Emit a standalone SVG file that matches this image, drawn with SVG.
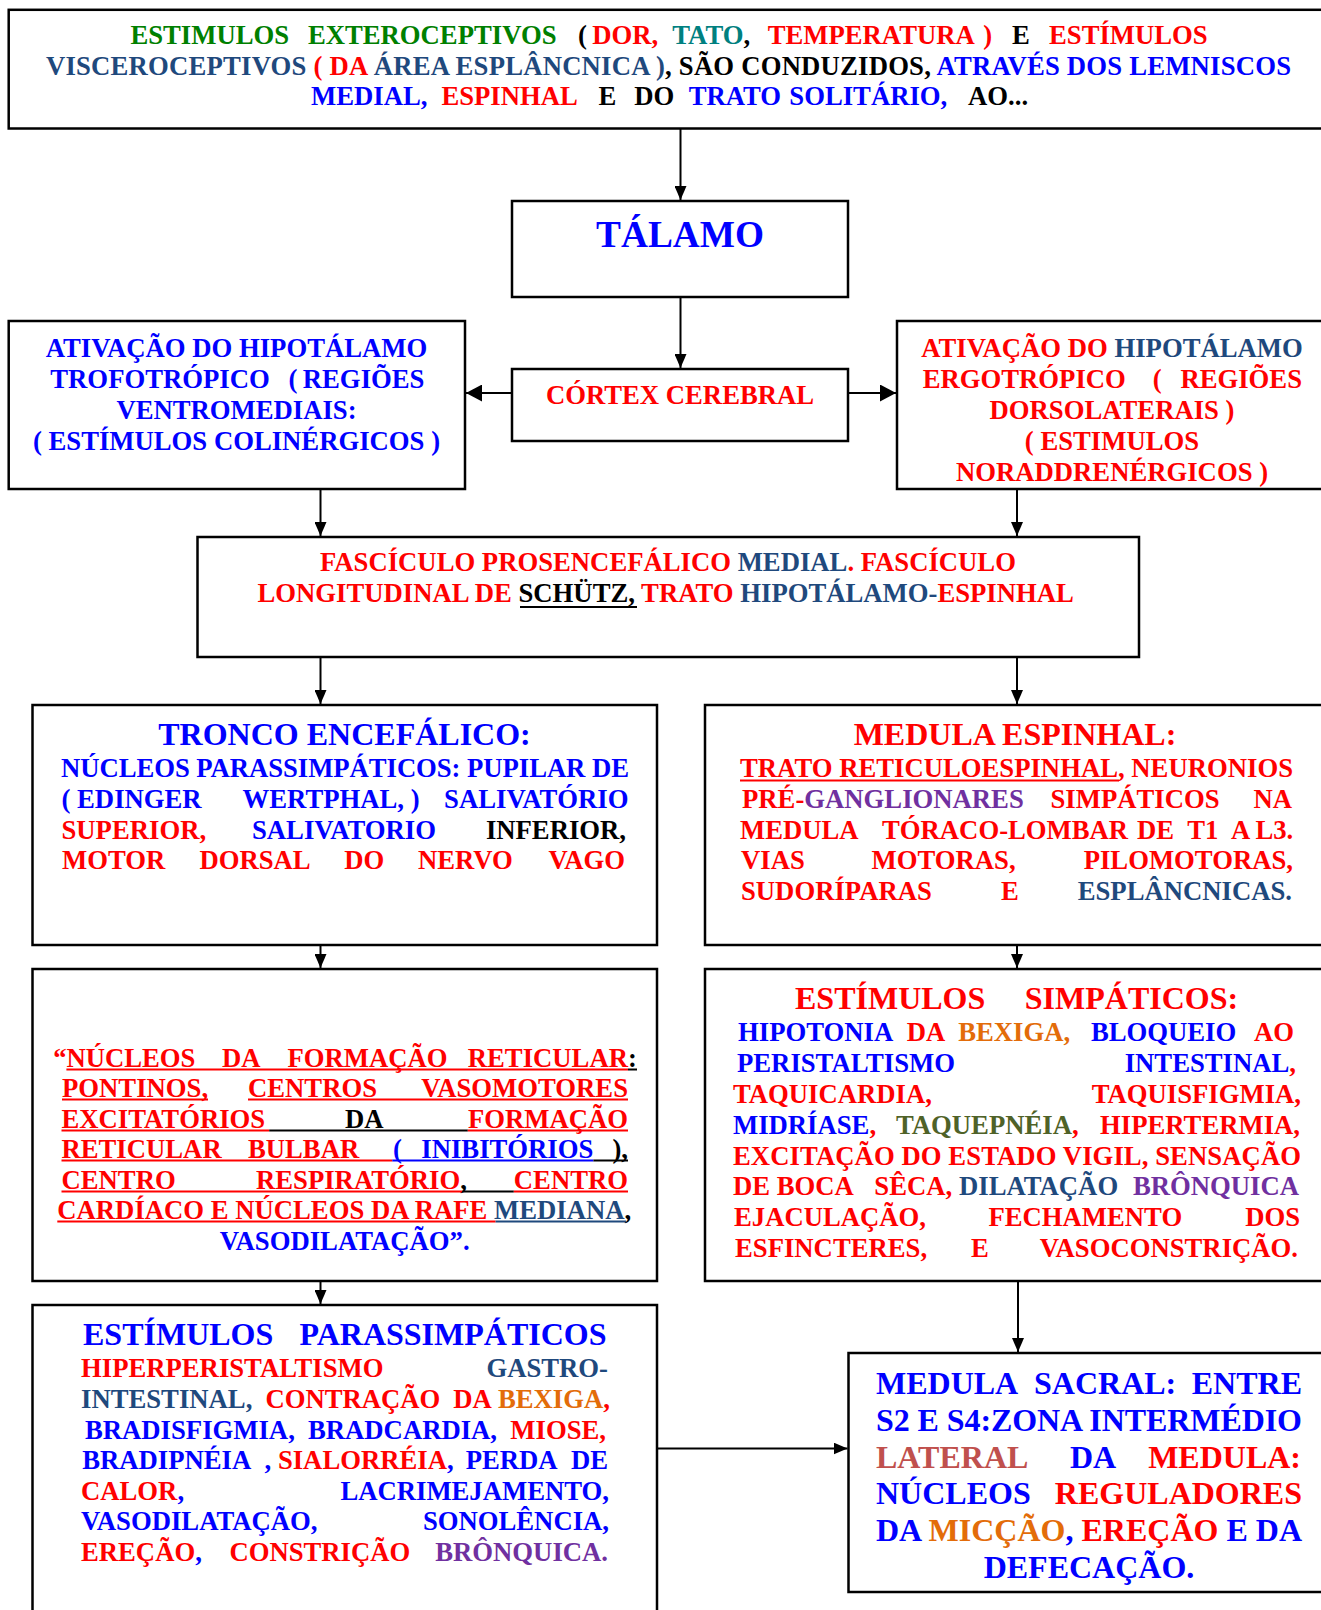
<svg xmlns="http://www.w3.org/2000/svg" width="1321" height="1610" viewBox="0 0 1321 1610">
<defs>
  <style>
    text { font-family: "Liberation Serif", "Times New Roman", serif; font-weight: bold; font-size: 26.7px; }
    .h { font-size: 32px; }
    .big { font-size: 37.3px; }
    .box { fill: #fff; stroke: #000; stroke-width: 2.5; }
    .con { stroke: #000; stroke-width: 2; fill: none; marker-end: url(#ah); }
    .conb { stroke: #000; stroke-width: 2.2; fill: none; marker-end: url(#ahB); }
    .ul { stroke-width: 2; }
    .r { fill: #FF0000; } .bl { fill: #0000FF; } .k { fill: #000; }
    .g { fill: #008000; } .t { fill: #008080; } .nv { fill: #1F497D; }
    .pu { fill: #7030A0; } .or { fill: #E36C09; } .ol { fill: #4F6228; } .rb { fill: #C0504D; }
    .sr { stroke: #FF0000; } .sb { stroke: #0000FF; } .sk { stroke: #000; } .snv { stroke: #1F497D; }
  </style>
  <marker id="ah" viewBox="0 0 14 12" refX="14" refY="6" markerWidth="14" markerHeight="12" markerUnits="userSpaceOnUse" orient="auto">
    <path d="M0,0 L14,6 L0,12 z" fill="#000"/>
  </marker>
  <marker id="ahB" viewBox="0 0 16 17" refX="16" refY="8.5" markerWidth="16" markerHeight="17" markerUnits="userSpaceOnUse" orient="auto">
    <path d="M0,0 L16,8.5 L0,17 z" fill="#000"/>
  </marker>
</defs>
<rect width="1321" height="1610" fill="#fff"/>

<!-- connectors -->
<g id="connectors">
  <line class="con" x1="680.5" y1="129" x2="680.5" y2="200"/>
  <line class="con" x1="680.5" y1="298" x2="680.5" y2="368"/>
  <line class="conb" x1="512" y1="393" x2="466" y2="393"/>
  <line class="conb" x1="848" y1="393" x2="896" y2="393"/>
  <line class="con" x1="320.5" y1="490" x2="320.5" y2="536"/>
  <line class="con" x1="1017" y1="490" x2="1017" y2="536"/>
  <line class="con" x1="320.5" y1="658" x2="320.5" y2="704"/>
  <line class="con" x1="1017" y1="658" x2="1017" y2="704"/>
  <line class="con" x1="320.5" y1="946" x2="320.5" y2="968"/>
  <line class="con" x1="1017" y1="946" x2="1017" y2="968"/>
  <line class="con" x1="320.5" y1="1282" x2="320.5" y2="1304"/>
  <line class="con" x1="1018" y1="1282" x2="1018" y2="1352"/>
  <line class="con" x1="658" y1="1448.5" x2="847.5" y2="1448.5"/>
</g>

<!-- top: exteroceptive / visceroceptive input -->
<g id="n-entrada">
  <rect class="box" x="8.7" y="9.8" width="1325" height="118.7"/>
  <text y="43.5"><tspan x="130.4" class="g">ESTIMULOS</tspan><tspan x="307.9" class="g">EXTEROCEPTIVOS</tspan><tspan x="577.9" class="k">(</tspan><tspan x="592.2" class="r">DOR,</tspan><tspan x="672.3" class="t">TATO</tspan><tspan class="k">,</tspan><tspan x="767.7" class="r">TEMPERATURA</tspan><tspan x="983.3" class="r">)</tspan><tspan x="1012" class="k">E</tspan><tspan x="1049" class="r">ESTÍMULOS</tspan></text>
  <text x="46" y="74.5" textLength="1245" lengthAdjust="spacing"><tspan class="nv">VISCEROCEPTIVOS </tspan><tspan class="r">( DA </tspan><tspan class="nv">ÁREA ESPLÂNCNICA )</tspan><tspan class="k">, SÃO CONDUZIDOS, </tspan><tspan class="bl">ATRAVÉS DOS LEMNISCOS</tspan></text>
  <text y="104.5"><tspan x="311" class="bl">MEDIAL,</tspan><tspan x="441.4" class="r">ESPINHAL</tspan><tspan x="598.4" class="k">E</tspan><tspan x="634.3" class="k">DO</tspan><tspan x="688.7" class="bl">TRATO</tspan><tspan x="789.3" class="bl">SOLITÁRIO,</tspan><tspan x="968" class="k">AO...</tspan></text>
</g>

<g id="n-talamo">
  <rect class="box" x="512" y="201" width="336" height="96"/>
  <text class="big bl" x="680" y="247" text-anchor="middle">TÁLAMO</text>
</g>

<g id="n-cortex">
  <rect class="box" x="512" y="369" width="336" height="72"/>
  <text class="r" x="680" y="404" text-anchor="middle">CÓRTEX CEREBRAL</text>
</g>

<g id="n-trofotropico">
  <rect class="box" x="8.7" y="321" width="456.3" height="168"/>
  <text class="bl" x="236.5" y="356.5" text-anchor="middle">ATIVAÇÃO DO HIPOTÁLAMO</text>
  <text class="bl" y="387.5"><tspan x="50.3">TROFOTRÓPICO</tspan><tspan x="288.4">(</tspan><tspan x="302.8">REGIÕES</tspan></text>
  <text class="bl" x="236.5" y="418.5" text-anchor="middle">VENTROMEDIAIS:</text>
  <text class="bl" x="236.5" y="449.5" text-anchor="middle">( ESTÍMULOS COLINÉRGICOS )</text>
</g>

<g id="n-ergotropico">
  <rect class="box" x="897" y="321" width="433" height="168"/>
  <text x="1112" y="356.5" text-anchor="middle"><tspan class="r">ATIVAÇÃO DO </tspan><tspan class="nv">HIPOTÁLAMO</tspan></text>
  <text class="r" y="387.5"><tspan x="922.7">ERGOTRÓPICO</tspan><tspan x="1152.7">(</tspan><tspan x="1180.4">REGIÕES</tspan></text>
  <text class="r" x="1112" y="418.5" text-anchor="middle">DORSOLATERAIS )</text>
  <text class="r" x="1112" y="449.5" text-anchor="middle">( ESTIMULOS</text>
  <text class="r" x="1112" y="480.5" text-anchor="middle">NORADDRENÉRGICOS )</text>
</g>

<g id="n-fasciculo">
  <rect class="box" x="197.5" y="537" width="941.5" height="120"/>
  <text x="320" y="571"><tspan class="r">FASCÍCULO PROSENCEFÁLICO </tspan><tspan class="nv">MEDIAL</tspan><tspan class="r">. FASCÍCULO</tspan></text>
  <text x="257.5" y="602"><tspan class="r">LONGITUDINAL DE </tspan><tspan class="k">SCHÜTZ,</tspan><tspan class="r"> TRATO </tspan><tspan class="nv">HIPOTÁLAMO-</tspan><tspan class="r">ESPINHAL</tspan></text>
  <line class="ul sk" x1="520" y1="607" x2="637" y2="607"/>
</g>

<g id="n-tronco">
  <rect class="box" x="32.5" y="705" width="624.5" height="240"/>
  <text class="h bl" x="344.5" y="745" text-anchor="middle">TRONCO ENCEFÁLICO:</text>
  <text class="bl" x="61" y="776.5" textLength="568" lengthAdjust="spacing">NÚCLEOS PARASSIMPÁTICOS: PUPILAR DE</text>
  <text class="bl" y="807.5"><tspan x="61.5">( EDINGER</tspan><tspan x="242.6">WERTPHAL, )</tspan><tspan x="628.5" text-anchor="end">SALIVATÓRIO</tspan></text>
  <text y="838.5"><tspan x="61.5" class="r">SUPERIOR,</tspan><tspan x="252" class="bl">SALIVATORIO</tspan><tspan x="626" text-anchor="end" class="k">INFERIOR,</tspan></text>
  <text class="r" y="868.5"><tspan x="62">MOTOR</tspan><tspan x="199.4">DORSAL</tspan><tspan x="344.3">DO</tspan><tspan x="417.9">NERVO</tspan><tspan x="625" text-anchor="end">VAGO</tspan></text>
</g>

<g id="n-medula-espinhal">
  <rect class="box" x="705" y="705" width="625" height="240"/>
  <text class="h r" x="1015" y="745" text-anchor="middle">MEDULA ESPINHAL:</text>
  <text class="r" x="740" y="776.5" textLength="553" lengthAdjust="spacing">TRATO RETICULOESPINHAL, NEURONIOS</text>
  <line class="ul sr" x1="740" y1="780.5" x2="1119" y2="780.5"/>
  <text y="807.5"><tspan x="742" class="r">PRÉ-</tspan><tspan class="pu">GANGLIONARES</tspan><tspan x="1050.5" class="r">SIMPÁTICOS</tspan><tspan x="1292" text-anchor="end" class="r">NA</tspan></text>
  <text class="r" y="838.5"><tspan x="740">MEDULA</tspan><tspan x="882">TÓRACO-LOMBAR</tspan><tspan x="1137">DE</tspan><tspan x="1187.3">T1</tspan><tspan x="1293.3" text-anchor="end">A L3.</tspan></text>
  <text class="r" y="868.5"><tspan x="741">VIAS</tspan><tspan x="871.5">MOTORAS,</tspan><tspan x="1293" text-anchor="end">PILOMOTORAS,</tspan></text>
  <text y="899.5"><tspan x="741" class="r">SUDORÍPARAS</tspan><tspan x="1001" class="r">E</tspan><tspan x="1292" text-anchor="end" class="nv">ESPLÂNCNICAS.</tspan></text>
</g>

<g id="n-reticular">
  <rect class="box" x="32.5" y="969" width="624.5" height="312"/>
  <text y="1066.5"><tspan x="53.2" class="r">“</tspan><tspan x="66.4" class="r">NÚCLEOS</tspan><tspan x="221.9" class="r">DA</tspan><tspan x="287.4" class="r">FORMAÇÃO</tspan><tspan x="467.8" class="r">RETICULAR</tspan><tspan class="k">:</tspan></text>
  <line class="ul sr" x1="66.4" y1="1069.5" x2="628" y2="1069.5"/>
  <line class="ul sk" x1="628" y1="1069.5" x2="637" y2="1069.5"/>
  <text class="r" y="1096.5"><tspan x="62">PONTINOS,</tspan><tspan x="248">CENTROS</tspan><tspan x="628" text-anchor="end">VASOMOTORES</tspan></text>
  <line class="ul sr" x1="62" y1="1099.5" x2="208" y2="1099.5"/>
  <line class="ul sr" x1="248" y1="1099.5" x2="628" y2="1099.5"/>
  <text y="1127.5"><tspan x="61.5" class="r">EXCITATÓRIOS</tspan><tspan x="345" class="k">DA</tspan><tspan x="628" text-anchor="end" class="r">FORMAÇÃO</tspan></text>
  <line class="ul sr" x1="61.5" y1="1130.5" x2="269.2" y2="1130.5"/>
  <line class="ul sk" x1="269.2" y1="1130.5" x2="467.8" y2="1130.5"/>
  <line class="ul sr" x1="467.8" y1="1130.5" x2="628" y2="1130.5"/>
  <text y="1157.5"><tspan x="61.5" class="r">RETICULAR</tspan><tspan x="248" class="r">BULBAR</tspan><tspan x="393" class="bl">(</tspan><tspan x="421.3" class="bl">INIBITÓRIOS</tspan><tspan x="628" text-anchor="end" class="k">),</tspan></text>
  <line class="ul sr" x1="61.5" y1="1160.5" x2="392.3" y2="1160.5"/>
  <line class="ul sb" x1="392.3" y1="1160.5" x2="593.4" y2="1160.5"/>
  <line class="ul sk" x1="593.4" y1="1160.5" x2="628" y2="1160.5"/>
  <text y="1188.5"><tspan x="61.5" class="r">CENTRO</tspan><tspan x="256" class="r">RESPIRATÓRIO</tspan><tspan class="k">,</tspan><tspan x="628" text-anchor="end" class="r">CENTRO</tspan></text>
  <line class="ul sr" x1="61.5" y1="1191.5" x2="462.2" y2="1191.5"/>
  <line class="ul sk" x1="462.2" y1="1191.5" x2="513.8" y2="1191.5"/>
  <line class="ul sr" x1="513.8" y1="1191.5" x2="628" y2="1191.5"/>
  <text x="57.3" y="1218.5"><tspan class="r">CARDÍACO E NÚCLEOS DA RAFE </tspan><tspan class="nv">MEDIANA</tspan><tspan class="k">,</tspan></text>
  <line class="ul sr" x1="57.3" y1="1221.5" x2="495.6" y2="1221.5"/>
  <line class="ul snv" x1="495.6" y1="1221.5" x2="626.1" y2="1221.5"/>
  <text class="bl" x="344.7" y="1249.5" text-anchor="middle">VASODILATAÇÃO”.</text>
</g>

<g id="n-simpaticos">
  <rect class="box" x="705" y="969" width="625" height="312"/>
  <text class="h r" y="1009"><tspan x="795">ESTÍMULOS</tspan><tspan x="1024.8">SIMPÁTICOS:</tspan></text>
  <text y="1040.5"><tspan x="738" class="bl">HIPOTONIA</tspan><tspan x="906.7" class="r">DA</tspan><tspan x="958.2" class="or">BEXIGA,</tspan><tspan x="1090.9" class="bl">BLOQUEIO</tspan><tspan x="1294" text-anchor="end" class="r">AO</tspan></text>
  <text y="1071.5"><tspan x="737" class="bl">PERISTALTISMO</tspan><tspan x="1296" text-anchor="end"><tspan class="bl">INTESTINAL</tspan><tspan class="r">,</tspan></tspan></text>
  <text class="r" y="1102.5"><tspan x="733">TAQUICARDIA,</tspan><tspan x="1301" text-anchor="end">TAQUISFIGMIA,</tspan></text>
  <text y="1133.5"><tspan x="733" class="bl">MIDRÍASE</tspan><tspan class="r">,</tspan><tspan x="896" class="ol">TAQUEPNÉIA</tspan><tspan class="r">,</tspan><tspan x="1300" text-anchor="end" class="r">HIPERTERMIA,</tspan></text>
  <text class="r" x="733" y="1164.5" textLength="568" lengthAdjust="spacing">EXCITAÇÃO DO ESTADO VIGIL, SENSAÇÃO</text>
  <text y="1194.5"><tspan x="733" class="r">DE BOCA</tspan><tspan x="874.3" class="r">SÊCA,</tspan><tspan x="959" class="nv">DILATAÇÃO</tspan><tspan x="1299" text-anchor="end" class="pu">BRÔNQUICA</tspan></text>
  <text class="r" y="1225.5"><tspan x="734">EJACULAÇÃO,</tspan><tspan x="988.4">FECHAMENTO</tspan><tspan x="1300" text-anchor="end">DOS</tspan></text>
  <text class="r" y="1256.5"><tspan x="735">ESFINCTERES,</tspan><tspan x="971">E</tspan><tspan x="1298" text-anchor="end">VASOCONSTRIÇÃO.</tspan></text>
</g>

<g id="n-parassimpaticos">
  <rect class="box" x="32.5" y="1305" width="624.5" height="320"/>
  <text class="h bl" y="1345"><tspan x="83">ESTÍMULOS</tspan><tspan x="606.5" text-anchor="end">PARASSIMPÁTICOS</tspan></text>
  <text y="1376.5"><tspan x="81" class="r">HIPERPERISTALTISMO</tspan><tspan x="608" text-anchor="end" class="nv">GASTRO-</tspan></text>
  <text y="1407.5"><tspan x="81" class="nv">INTESTINAL,</tspan><tspan x="265.4" class="r">CONTRAÇÃO</tspan><tspan x="453.2" class="r">DA</tspan><tspan x="498" class="or">BEXIGA</tspan><tspan class="r">,</tspan></text>
  <text y="1438.5"><tspan x="85" class="bl">BRADISFIGMIA,</tspan><tspan x="308" class="bl">BRADCARDIA,</tspan><tspan x="606" text-anchor="end" class="r">MIOSE,</tspan></text>
  <text y="1468.5"><tspan x="82.2" class="bl">BRADIPNÉIA</tspan><tspan x="264.6" class="bl">,</tspan><tspan x="277.9" class="r">SIALORRÉIA</tspan><tspan class="bl">,</tspan><tspan x="465.7" class="bl">PERDA</tspan><tspan x="608" text-anchor="end" class="bl">DE</tspan></text>
  <text y="1499.5"><tspan x="81" class="r">CALOR</tspan><tspan class="bl">,</tspan><tspan x="609" text-anchor="end" class="bl">LACRIMEJAMENTO,</tspan></text>
  <text class="bl" y="1529.5"><tspan x="81">VASODILATAÇÃO,</tspan><tspan x="609" text-anchor="end">SONOLÊNCIA,</tspan></text>
  <text y="1560.5"><tspan x="81" class="r">EREÇÃO</tspan><tspan class="bl">,</tspan><tspan x="229.4" class="r">CONSTRIÇÃO</tspan><tspan x="608" text-anchor="end" class="pu">BRÔNQUICA.</tspan></text>
</g>

<g id="n-medula-sacral">
  <rect class="box" x="848.5" y="1353" width="482" height="239"/>
  <text class="h bl" y="1394"><tspan x="876">MEDULA</tspan><tspan x="1034">SACRAL:</tspan><tspan x="1302" text-anchor="end">ENTRE</tspan></text>
  <text class="h bl" x="876" y="1430.5" textLength="426" lengthAdjust="spacing">S2 E S4:ZONA INTERMÉDIO</text>
  <text class="h" y="1467.5"><tspan x="876" class="rb">LATERAL</tspan><tspan x="1070" class="bl">DA</tspan><tspan x="1301" text-anchor="end" class="r">MEDULA:</tspan></text>
  <text class="h" y="1504"><tspan x="876" class="bl">NÚCLEOS</tspan><tspan x="1302" text-anchor="end" class="r">REGULADORES</tspan></text>
  <text class="h" x="876" y="1540.5" textLength="426" lengthAdjust="spacing"><tspan class="bl">DA </tspan><tspan class="or">MICÇÃO</tspan><tspan class="bl">, </tspan><tspan class="r">EREÇÃO</tspan><tspan class="bl"> E DA</tspan></text>
  <text class="h bl" x="1089" y="1577.5" text-anchor="middle">DEFECAÇÃO.</text>
</g>
</svg>
